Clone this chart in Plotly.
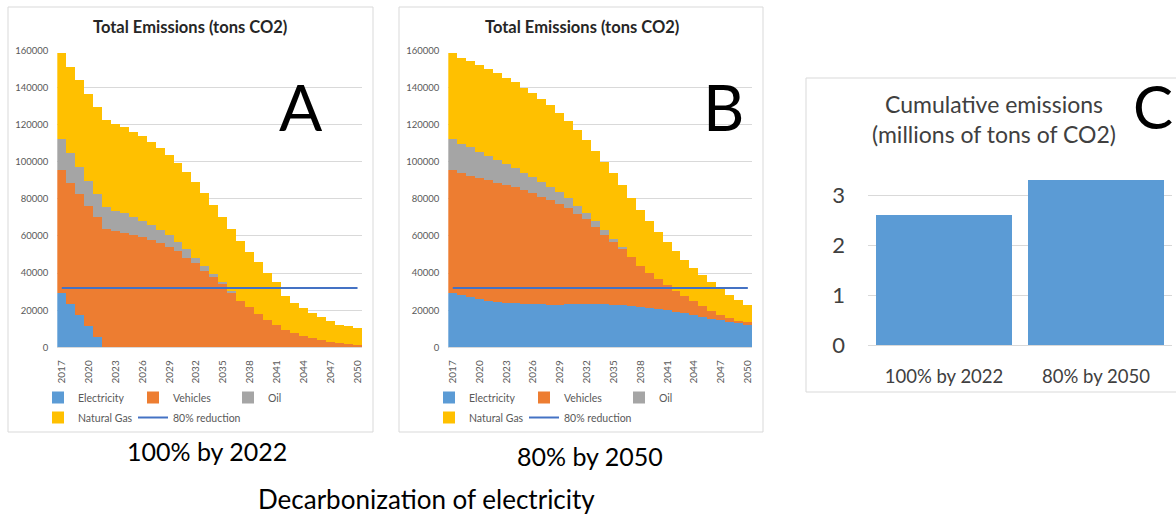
import plotly.graph_objects as go

# ---- data -------------------------------------------------------------
years = list(range(2017, 2051))
year_ticks = [2017, 2020, 2023, 2026, 2029, 2032, 2035, 2038, 2041, 2044, 2047, 2050]

# Scenario A: 100% clean electricity by 2022 (tons CO2 per year)
elec_a = [29000, 23200, 17000, 11500, 5300, 0, 0, 0, 0, 0, 0, 0, 0, 0, 0, 0, 0,
          0, 0, 0, 0, 0, 0, 0, 0, 0, 0, 0, 0, 0, 0, 0, 0, 0]
veh_a = [66300, 65400, 65200, 64600, 64500, 63500, 62600, 61500, 60200, 59300, 57900,
         56100, 53900, 51800, 48200, 45000, 41000, 37500, 33700, 29400, 24900, 21300,
         17800, 14400, 11700, 9300, 7500, 5900, 4800, 3600, 2700, 2200, 1600, 1100]
oil_a = [16500, 15700, 14900, 13500, 12800, 11700, 10800, 10500, 10000, 8500, 7800,
         6900, 6400, 4900, 4400, 3200, 2900, 2000, 1300, 900, 0, 0, 0, 0, 0, 0, 0,
         0, 0, 0, 0, 0, 0, 0]
gas_a = [46400, 46400, 46500, 46800, 46700, 46900, 46900, 46400, 45700, 45800, 44700,
         44000, 43300, 42400, 41700, 40500, 38900, 37100, 35300, 33500, 32300, 30100,
         27800, 25500, 23500, 18000, 16300, 15100, 13400, 12300, 11100, 9800, 9600, 9200]

# Scenario B: 80% clean electricity by 2050
elec_b = [29000, 28000, 26800, 25900, 25000, 24400, 23900, 23500, 23200, 23000, 22900,
          22800, 22800, 22900, 23000, 23000, 23000, 22900, 22700, 22400, 22000, 21500,
          21000, 20400, 19700, 19000, 18100, 17200, 16200, 15300, 14500, 13600, 12700, 11900]
veh_b = [66300, 65500, 65500, 65200, 65000, 64200, 63400, 62500, 61400, 59800, 58100,
         56400, 54300, 51800, 48900, 45800, 41600, 37500, 34000, 30200, 26300, 22200,
         19100, 16100, 13600, 11200, 9500, 7600, 5800, 4200, 2700, 2200, 1500, 1500]
oil_b = [16600, 15900, 15300, 14200, 13000, 12200, 11400, 10300, 9400, 8700, 7800,
         7000, 6200, 5600, 4100, 3400, 3100, 2800, 1400, 1200, 0, 0, 0, 0, 0, 0, 0,
         0, 0, 0, 0, 0, 0, 0]
gas_b = [46300, 46500, 46300, 46500, 46600, 46700, 46300, 46200, 45800, 45200, 44900,
         44100, 43000, 41700, 41000, 39500, 38100, 36400, 35500, 33300, 32000, 30100,
         27800, 25600, 23300, 21500, 19200, 17900, 16700, 15600, 14000, 12400, 11100, 9200]

reduction_target = 32000  # 80% reduction level, tons CO2

scenarios = ["100% by 2022", "80% by 2050"]
cumulative = [2.6, 3.3]  # millions of tons CO2

series_names = ["Electricity", "Vehicles", "Oil", "Natural Gas"]
colors = {"Electricity": "#5B9BD5", "Vehicles": "#ED7D31", "Oil": "#A5A5A5",
          "Natural Gas": "#FFC000", "line": "#4472C4"}

# ---- geometry helpers (pixel -> paper) -------------------------------
W, H = 1176, 515
FONT = "Lato"


def fx(px):
    return px / W


def fy(py):
    return 1 - py / H


fig = go.Figure()


def add_stack(stacks, xa, ya, legs):
    # legs: (first legend row, natural gas slot, reduction line slot)
    for name, vals in zip(series_names, stacks):
        fig.add_trace(go.Bar(
            x=years, y=vals, name=name, width=1,
            marker=dict(color=colors[name], line=dict(width=0)),
            xaxis=xa, yaxis=ya,
            legend=legs[1] if name == "Natural Gas" else legs[0],
        ))
    fig.add_trace(go.Scatter(
        x=years, y=[reduction_target] * len(years), name="80% reduction",
        mode="lines", line=dict(color=colors["line"], width=2),
        xaxis=xa, yaxis=ya, legend=legs[2],
    ))


add_stack([elec_a, veh_a, oil_a, gas_a], "x", "y", ("legend", "legend2", "legend3"))
add_stack([elec_b, veh_b, oil_b, gas_b], "x2", "y2", ("legend4", "legend5", "legend6"))

fig.add_trace(go.Bar(
    x=scenarios, y=cumulative, width=0.89, showlegend=False,
    marker=dict(color=colors["Electricity"], line=dict(width=0)),
    xaxis="x3", yaxis="y3",
))

# ---- axes -------------------------------------------------------------
grid = "#D9D9D9"
tick_grey = "#595959"

small_x = dict(range=[2016.5, 2050.5], tickvals=year_ticks, tickangle=-90,
               tickfont=dict(family=FONT, size=10, color=tick_grey),
               showgrid=False, zeroline=False, showline=True, linecolor=grid,
               ticks="", ticklabelstandoff=8, fixedrange=True, automargin=False)
small_y = dict(range=[0, 160000], dtick=20000, tickformat="d",
               tickfont=dict(family=FONT, size=9.5, color=tick_grey),
               showgrid=True, gridcolor=grid, gridwidth=1, zeroline=False,
               showline=False, ticks="", ticklabelstandoff=8, fixedrange=True,
               automargin=False)

fig.update_layout(
    xaxis=dict(domain=[fx(57.3), fx(362)], anchor="y", **small_x),
    yaxis=dict(domain=[fy(347.3), fy(50.3)], anchor="x", **small_y),
    xaxis2=dict(domain=[fx(448.3), fx(752.3)], anchor="y2", **small_x),
    yaxis2=dict(domain=[fy(347.3), fy(50.3)], anchor="x2", **small_y),
    xaxis3=dict(domain=[fx(868), fx(1172)], anchor="y3", type="category",
                tickfont=dict(family=FONT, size=18.5, color="#404040"),
                showgrid=False, zeroline=False, showline=True, linecolor=grid,
                ticks="", ticklabelstandoff=14, fixedrange=True, automargin=False),
    yaxis3=dict(domain=[fy(345.3), fy(170.3)], anchor="x3", range=[0, 3.5],
                tickvals=[0, 1, 2, 3],
                tickfont=dict(family=FONT, size=22, color="#404040"),
                showgrid=True, gridcolor=grid, zeroline=False, showline=False,
                ticks="", ticklabelstandoff=22, fixedrange=True, automargin=False),
)

# ---- legends ------------------------------------------------------------
leg_common = dict(orientation="h", xanchor="left", yanchor="top",
                  bgcolor="rgba(0,0,0,0)", borderwidth=0,
                  font=dict(family=FONT, size=10.5, color=tick_grey),
                  itemclick=False, itemdoubleclick=False, traceorder="normal")
row1 = fy(383)
row2 = fy(403)
fig.update_layout(
    legend=dict(x=fx(38), y=row1, entrywidth=50, entrywidthmode="pixels", **leg_common),
    legend2=dict(x=fx(38), y=row2, **leg_common),
    legend3=dict(x=fx(133), y=row2, **leg_common),
    legend4=dict(x=fx(429), y=row1, entrywidth=50, entrywidthmode="pixels", **leg_common),
    legend5=dict(x=fx(429), y=row2, **leg_common),
    legend6=dict(x=fx(524), y=row2, **leg_common),
)

# ---- frames around the panels -------------------------------------------
for x0, y0, x1, y1 in [(8, 7, 373, 432), (399, 7, 763, 432), (806, 78, 1182, 392)]:
    fig.add_shape(type="rect", xref="paper", yref="paper",
                  x0=fx(x0), x1=fx(x1), y0=fy(y1), y1=fy(y0),
                  line=dict(color=grid, width=1), fillcolor="rgba(0,0,0,0)",
                  layer="below")

# ---- text -----------------------------------------------------------------
def note(text, x, y, size, color="#000000", bold=False):
    fig.add_annotation(text=f"<b>{text}</b>" if bold else text,
                       xref="paper", yref="paper", x=fx(x), y=fy(y),
                       xanchor="center", yanchor="middle", showarrow=False,
                       font=dict(family=FONT, size=size, color=color))


note("Total Emissions (tons CO2)", 190, 27, 16.5, "#262626", bold=True)
note("Total Emissions (tons CO2)", 582, 27, 16.5, "#262626", bold=True)
note("A", 301, 106, 64)
note("B", 723, 106, 64)
note("C", 1153, 106, 60)
note("Cumulative emissions", 994, 104, 23, "#404040")
note("(millions of tons of CO2)", 994, 134, 23, "#404040")
note(scenarios[0], 207, 451, 25)
note(scenarios[1], 590, 456, 25)
note("Decarbonization of electricity", 426, 499, 26)

fig.update_layout(
    width=W, height=H, margin=dict(l=0, r=0, t=0, b=0),
    paper_bgcolor="white", plot_bgcolor="white",
    barmode="stack", bargap=0, hovermode=False,
)

fig.write_html("out.html", config={"displayModeBar": False})
